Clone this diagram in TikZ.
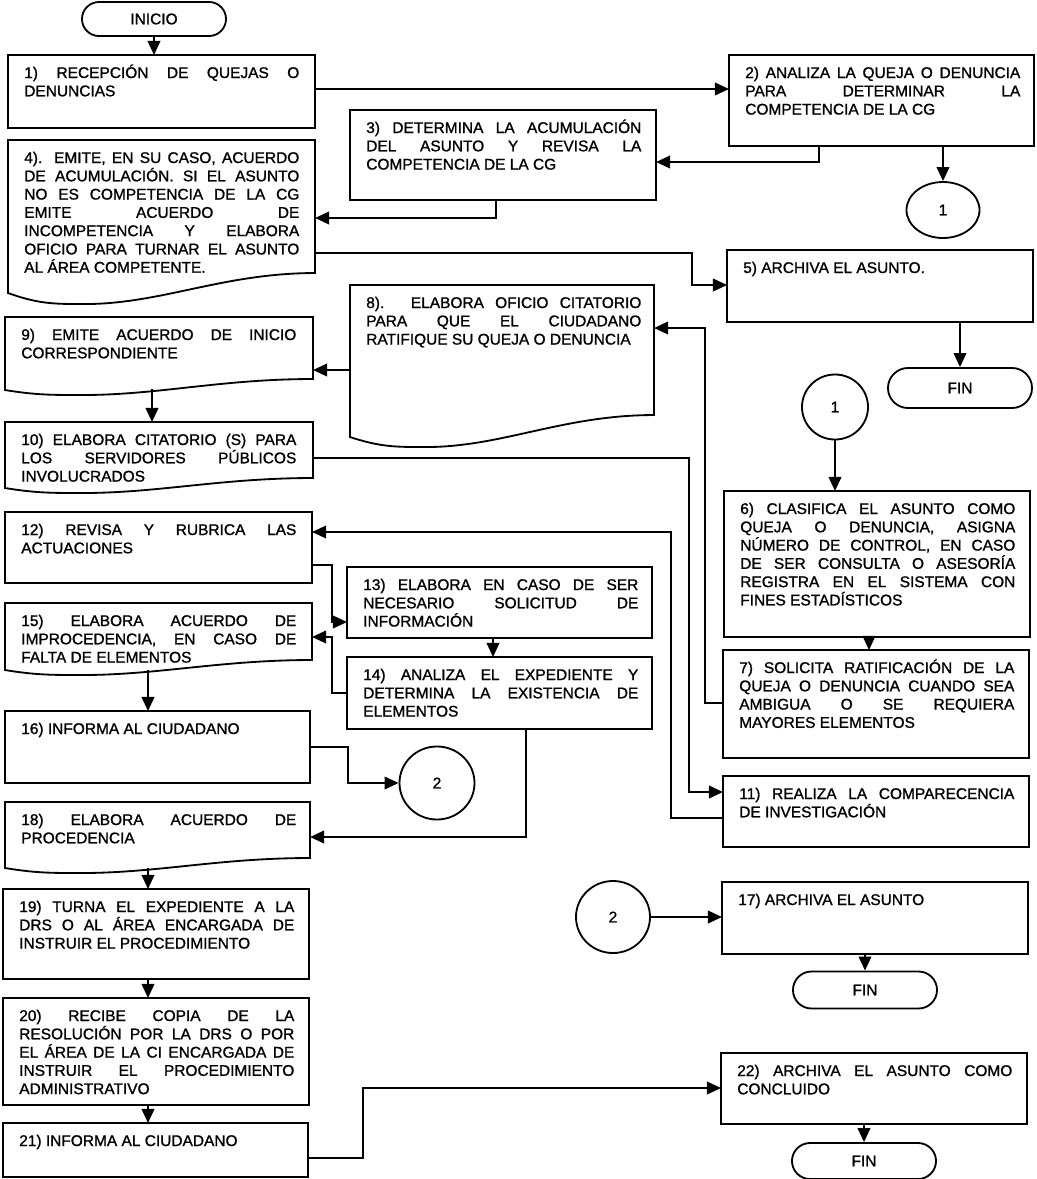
\documentclass[tikz,border=0pt]{standalone}
\usepackage{fontspec}
\setmainfont{Liberation Sans}[FakeBold=1.2]
\usetikzlibrary{arrows.meta, positioning, calc, shapes.misc, shapes.geometric}
\hyphenpenalty=10000
\exhyphenpenalty=10000
\tolerance=10000
\hbadness=10000

% outline of a document-shaped step: node, drop of left end, dip of the wave
\newcommand{\docoutline}[3]{%
  \draw[boxline] (#1.south east) -- (#1.north east) -- (#1.north west)
    -- ($(#1.south west)+(0,#2)$)
    .. controls ($(#1.south west)!0.1!(#1.south east)+(0,#2+#3)$)
            and ($(#1.south west)!0.15!(#1.south east)+(0,#2+#3)$)
    .. ($(#1.south west)!0.25!(#1.south east)+(0,#2+#3)$)
    .. controls ($(#1.south west)!0.5!(#1.south east)+(0,#2+#3)$)
            and ($(#1.south west)!0.7!(#1.south east)$)
    .. (#1.south east) -- cycle;
}

\begin{document}
\begin{tikzpicture}[
    x=0.025cm, y=-0.025cm,
    >={Triangle[length=10pt,width=9pt]},
    every node/.style={font=\fontsize{11}{13}\selectfont},
]
% ============================================================
% Styles
% ============================================================
\tikzset{
    boxline/.style={draw=black, line width=1.3pt},
    stepbox/.style={boxline, rectangle, anchor=north west, inner sep=0pt, outer sep=0pt},
    docbox/.style={rectangle, anchor=north west, inner sep=0pt, outer sep=0pt},
    steptext/.style={anchor=base west, text width=6.875cm, align=justify, inner sep=0pt},
    terminal/.style={boxline, rounded rectangle, minimum width=3.6cm, minimum height=0.9cm, inner sep=0pt},
    connector/.style={boxline, ellipse, inner sep=0pt},
    flow/.style={->, line width=1.3pt},
}
\useasboundingbox (0,0) rectangle (1037,1179);

% ============================================================
% Left column
% ============================================================
\node[terminal, minimum height=0.85cm] (inicio) at (154,19) {INICIO};

% Box 1: Recepcion
\node[stepbox, minimum width=7.675cm, minimum height=1.825cm] (b1) at (8,55) {};
\node[steptext] (t1) at ($(b1.north west)+(16,23)$) {1) RECEPCIÓN DE QUEJAS O\linebreak DENUNCIAS};
% Box 4: Acuerdo de acumulacion
\node[docbox, minimum width=7.675cm, minimum height=3.325cm] (b4) at (8,140) {};
\node[steptext] (t4) at ($(b4.north west)+(16,23)$) {4). EMITE, EN SU CASO, ACUERDO\linebreak DE ACUMULACIÓN. SI EL ASUNTO\linebreak NO ES COMPETENCIA DE LA CG\linebreak EMITE ACUERDO DE\linebreak INCOMPETENCIA Y ELABORA\linebreak OFICIO PARA TURNAR EL ASUNTO\linebreak AL ÁREA COMPETENTE.};
% Box 9: Acuerdo de inicio
\node[docbox, minimum width=7.7cm, minimum height=1.55cm] (b9) at (5,317) {};
\node[steptext] (t9) at ($(b9.north west)+(16,23)$) {9) EMITE ACUERDO DE INICIO\linebreak CORRESPONDIENTE};
% Box 10: Citatorios
\node[docbox, minimum width=7.7cm, minimum height=1.4cm] (b10) at (5,422) {};
\node[steptext] (t10) at ($(b10.north west)+(16,23)$) {10) ELABORA CITATORIO (S) PARA\linebreak LOS SERVIDORES PÚBLICOS\linebreak INVOLUCRADOS};
% Box 12: Revisa actuaciones
\node[stepbox, minimum width=7.675cm, minimum height=1.775cm] (b12) at (5,512) {};
\node[steptext] (t12) at ($(b12.north west)+(16,23)$) {12) REVISA Y RUBRICA LAS\linebreak ACTUACIONES};
% Box 15: Improcedencia
\node[docbox, minimum width=7.675cm, minimum height=1.425cm] (b15) at (5,603) {};
\node[steptext] (t15) at ($(b15.north west)+(16,23)$) {15) ELABORA ACUERDO DE\linebreak IMPROCEDENCIA, EN CASO DE\linebreak FALTA DE ELEMENTOS};
% Box 16: Informa
\node[stepbox, minimum width=7.625cm, minimum height=1.8cm] (b16) at (5,711) {};
\node[steptext] (t16) at ($(b16.north west)+(16,23)$) {16) INFORMA AL CIUDADANO};
% Box 18: Procedencia
\node[docbox, minimum width=7.625cm, minimum height=1.4cm] (b18) at (5,802) {};
\node[steptext] (t18) at ($(b18.north west)+(16,23)$) {18) ELABORA ACUERDO DE\linebreak PROCEDENCIA};
% Box 19: Turna expediente
\node[stepbox, minimum width=7.65cm, minimum height=2.25cm] (b19) at (3,889) {};
\node[steptext] (t19) at ($(b19.north west)+(16,23)$) {19) TURNA EL EXPEDIENTE A LA\linebreak DRS O AL ÁREA ENCARGADA DE\linebreak INSTRUIR EL PROCEDIMIENTO};
% Box 20: Recibe copia
\node[stepbox, minimum width=7.65cm, minimum height=2.675cm] (b20) at (3,998) {};
\node[steptext] (t20) at ($(b20.north west)+(16,23)$) {20) RECIBE COPIA DE LA\linebreak RESOLUCIÓN POR LA DRS O POR\linebreak EL ÁREA DE LA CI ENCARGADA DE\linebreak INSTRUIR EL PROCEDIMIENTO\linebreak ADMINISTRATIVO};
% Box 21: Informa
\node[stepbox, minimum width=7.625cm, minimum height=1.35cm] (b21) at (3,1123) {};
\node[steptext] (t21) at ($(b21.north west)+(16,23)$) {21) INFORMA AL CIUDADANO};

% ============================================================
% Middle column
% ============================================================
% Box 3: Acumulacion
\node[stepbox, minimum width=7.65cm, minimum height=2.25cm] (b3) at (350,110) {};
\node[steptext] (t3) at ($(b3.north west)+(16,23)$) {3) DETERMINA LA ACUMULACIÓN\linebreak DEL ASUNTO Y REVISA LA\linebreak COMPETENCIA DE LA CG};
% Box 8: Oficio citatorio
\node[docbox, minimum width=7.6cm, minimum height=3.25cm] (b8) at (350,285) {};
\node[steptext] (t8) at ($(b8.north west)+(16,23)$) {8). ELABORA OFICIO CITATORIO\linebreak PARA QUE EL CIUDADANO\linebreak RATIFIQUE SU QUEJA O DENUNCIA};
% Box 13: Solicitud de informacion
\node[stepbox, minimum width=7.625cm, minimum height=1.775cm] (b13) at (347,567) {};
\node[steptext] (t13) at ($(b13.north west)+(16,23)$) {13) ELABORA EN CASO DE SER\linebreak NECESARIO SOLICITUD DE\linebreak INFORMACIÓN};
% Box 14: Analiza expediente
\node[stepbox, minimum width=7.625cm, minimum height=1.8cm] (b14) at (347,657) {};
\node[steptext] (t14) at ($(b14.north west)+(16,23)$) {14) ANALIZA EL EXPEDIENTE Y\linebreak DETERMINA LA EXISTENCIA DE\linebreak ELEMENTOS};
% Connector 2 (out)
\node[connector, minimum width=1.875cm, minimum height=1.825cm] (c2a) at (437,783) {2};
% Connector 2 (in)
\node[connector, minimum width=1.85cm, minimum height=1.8cm] (c2b) at (613,917) {2};

% ============================================================
% Right column
% ============================================================
% Box 2: Analiza queja
\node[stepbox, minimum width=7.625cm, minimum height=2.275cm] (b2) at (729,55) {};
\node[steptext] (t2) at ($(b2.north west)+(16,23)$) {2) ANALIZA LA QUEJA O DENUNCIA\linebreak PARA DETERMINAR LA\linebreak COMPETENCIA DE LA CG};
\node[connector, minimum width=1.825cm, minimum height=1.4cm] (c1a) at (943,210) {1};
% Box 5: Archiva
\node[stepbox, minimum width=7.65cm, minimum height=1.8cm] (b5) at (727,250) {};
\node[steptext] (t5) at ($(b5.north west)+(16,23)$) {5) ARCHIVA EL ASUNTO.};
\node[terminal, minimum height=1.0cm] (fin1) at (960,388) {FIN};
\node[connector, minimum width=1.65cm, minimum height=1.625cm] (c1b) at (835,407) {1};
% Box 6: Clasifica
\node[stepbox, minimum width=7.65cm, minimum height=3.65cm] (b6) at (724,491) {};
\node[steptext] (t6) at ($(b6.north west)+(16,23)$) {6) CLASIFICA EL ASUNTO COMO\linebreak QUEJA O DENUNCIA, ASIGNA\linebreak NÚMERO DE CONTROL, EN CASO\linebreak DE SER CONSULTA O ASESORÍA\linebreak REGISTRA EN EL SISTEMA CON\linebreak FINES ESTADÍSTICOS};
% Box 7: Solicita ratificacion
\node[stepbox, minimum width=7.65cm, minimum height=2.7cm] (b7) at (723,650) {};
\node[steptext] (t7) at ($(b7.north west)+(16,23)$) {7) SOLICITA RATIFICACIÓN DE LA\linebreak QUEJA O DENUNCIA CUANDO SEA\linebreak AMBIGUA O SE REQUIERA\linebreak MAYORES ELEMENTOS};
% Box 11: Comparecencia
\node[stepbox, minimum width=7.65cm, minimum height=1.775cm] (b11) at (723,776) {};
\node[steptext] (t11) at ($(b11.north west)+(16,23)$) {11) REALIZA LA COMPARECENCIA\linebreak DE INVESTIGACIÓN};
% Box 17: Archiva
\node[stepbox, minimum width=7.65cm, minimum height=1.8cm] (b17) at (722,882) {};
\node[steptext] (t17) at ($(b17.north west)+(16,23)$) {17) ARCHIVA EL ASUNTO};
\node[terminal, minimum height=0.925cm] (fin2) at (865,990) {FIN};
% Box 22: Archiva como concluido
\node[stepbox, minimum width=7.65cm, minimum height=1.775cm] (b22) at (721,1053) {};
\node[steptext] (t22) at ($(b22.north west)+(16,23)$) {22) ARCHIVA EL ASUNTO COMO\linebreak CONCLUIDO};
\node[terminal, minimum height=0.9cm] (fin3) at (864,1161) {FIN};

% document shapes
\docoutline{b4}{20}{11}
\docoutline{b8}{22}{10}
\docoutline{b9}{11}{5}
\docoutline{b10}{10}{5}
\docoutline{b15}{10}{5}
\docoutline{b18}{10}{5}

% ============================================================
% Arrows
% ============================================================
\draw[flow] (inicio.south) -- (inicio.south |- b1.north);
\draw[flow] (b1.east |- 0,89) -- (b2.west |- 0,89);
\draw[flow] (b2.south -| 819,0) |- (b3.east |- 0,162);
\draw[flow] (b3.south -| 496,0) |- (b4.east |- 0,218);
\draw[flow] (c1a.north |- b2.south) -- (c1a.north);
\draw[flow] (b4.east |- 0,253) -| (692,285) -- (b5.west |- 0,285);
\draw[flow] (c1b.south) -- (c1b.south |- b6.north);
\draw[flow] (b7.west |- 0,703) -| (705,328) -- (b8.east |- 0,328);
\draw[flow] (b8.west |- 0,370) -- (b9.east |- 0,370);
\draw[flow] ($(b9.south -| 152,0)+(0,10)$) -- (b10.north -| 152,0);
\draw[flow] (b10.east |- 0,458) -| (689,792) -- (b11.west |- 0,792);
\draw[flow] (b11.west |- 0,818) -| (671,532) -- (b12.east |- 0,532);
\draw[flow] (b12.east |- 0,565) -| (332,622) -- (b13.west |- 0,622);
\draw[flow] (b14.west |- 0,693) -| (332,637) -- (b15.east |- 0,637);
\draw[flow] ($(b15.south -| 148,0)+(0,10)$) -- (b16.north -| 148,0);
\draw[flow] (b16.east |- 0,747) -| (348,783) -- (c2a.west);
\draw[flow] (b14.south -| 526,0) |- (b18.east |- 0,837);
\draw[flow] ($(b18.south -| 148,0)+(0,10)$) -- (b19.north -| 148,0);
\draw[flow] (b21.east |- 0,1158) -| (363,1088) -- (b22.west |- 0,1088);
\draw[flow] (c2b.east) -- (b17.west |- c2b.east);
% straight drops
\foreach \i/\j/\x in {b13/b14/493, b19/b20/148, b20/b21/148, b6/b7/869} {
    \draw[flow] (\i.south -| \x,0) -- (\j.north -| \x,0);
}
% to the end terminals
\foreach \i/\j in {b5/fin1, b17/fin2, b22/fin3} {
    \draw[flow] (\j.north |- \i.south) -- (\j.north);
}
\end{tikzpicture}
\end{document}
